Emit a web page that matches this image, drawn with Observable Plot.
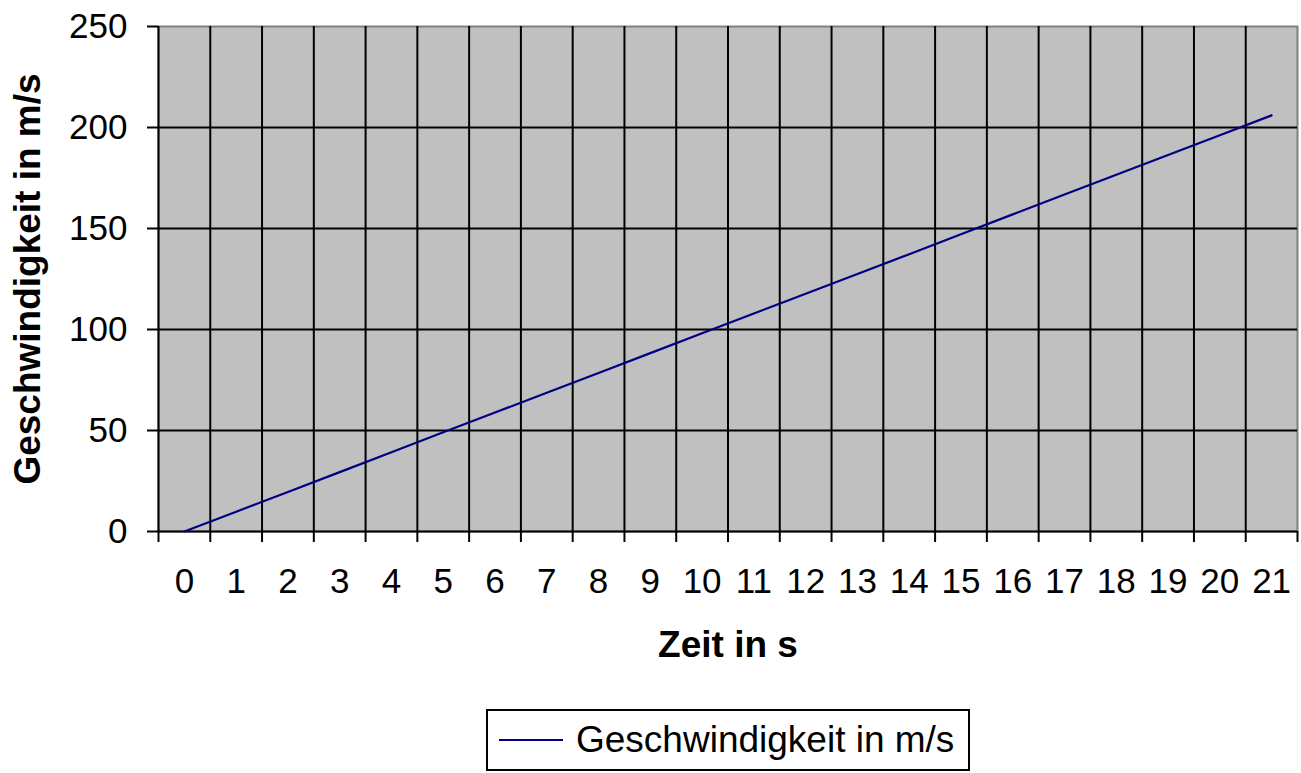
<!DOCTYPE html>
<html>
<head>
<meta charset="utf-8">
<script src="https://cdn.jsdelivr.net/npm/d3@7"></script>
<script src="https://cdn.jsdelivr.net/npm/@observablehq/plot@0.6"></script>
<style>
  html, body { margin: 0; padding: 0; background: white; }
  body { position: relative; width: 1301px; height: 773px; overflow: hidden; font-family: "Liberation Sans", Arial, sans-serif; }
  #legend { position: absolute; left: 486px; top: 709px; width: 480px; height: 58px; border: 2px solid #000; background: white; display: flex; align-items: center; }
  #legend svg { margin-left: 10px; }
  #legend span { font-size: 37px; margin-left: 12px; color: #000; }
</style>
</head>
<body>
<div id="chart"></div>
<div id="legend"><svg width="66" height="6"><line x1="1" x2="65" y1="3" y2="3" stroke="#000080" stroke-width="2"/></svg><span>Geschwindigkeit in m/s</span></div>
<script>
const categories = [0,1,2,3,4,5,6,7,8,9,10,11,12,13,14,15,16,17,18,19,20,21];
const speeds = [0, 9.8, 19.6, 29.4, 39.2, 49.1, 58.9, 68.7, 78.5, 88.3, 98.1, 107.9, 117.7, 127.5, 137.3, 147.2, 157.0, 166.8, 176.6, 186.4, 196.2, 206.0];
const yTicks = [0, 50, 100, 150, 200, 250];
const seriesName = "Geschwindigkeit in m/s";
const xTitle = "Zeit in s";
const yTitle = "Geschwindigkeit in m/s";

const data = categories.map((c, i) => ({t: c, v: speeds[i]}));
const boundaries = categories.map(c => c - 0.5).concat([categories[categories.length - 1] + 0.5]);
const innerBoundaries = boundaries.slice(0, -1);

const chart = Plot.plot({
  width: 1301,
  height: 690,
  marginLeft: 158,
  marginRight: 4,
  marginTop: 26,
  marginBottom: 159,
  style: {fontFamily: "Liberation Sans, Arial, sans-serif", fontSize: "35px", color: "black", background: "white"},
  x: {type: "linear", domain: [boundaries[0], boundaries[boundaries.length - 1]]},
  y: {domain: [yTicks[0], yTicks[yTicks.length - 1]]},
  marks: [
    Plot.frame({fill: "#c0c0c0", stroke: "#808080", strokeWidth: 2}),
    Plot.gridY(yTicks.slice(0, -1), {stroke: "black", strokeOpacity: 1, strokeWidth: 2}),
    Plot.ruleX(innerBoundaries, {stroke: "black", strokeWidth: 2}),
    Plot.axisX({ticks: boundaries, tickFormat: () => "", tickSize: 11, strokeWidth: 2, label: null}),
    Plot.axisX({ticks: categories, tickFormat: d => String(d), tickSize: 0, tickPadding: 37, fontSize: 35, label: null}),
    Plot.axisY({ticks: yTicks, tickSize: 11, tickPadding: 20, strokeWidth: 2, fontSize: 35, label: null}),
    Plot.line(data, {x: "t", y: "v", stroke: "#000080", strokeWidth: 2.2}),
    Plot.text([xTitle], {frameAnchor: "bottom", dy: 114, lineAnchor: "middle", fontWeight: "bold", fontSize: 37, fill: "black"}),
    Plot.text([yTitle], {frameAnchor: "left", dx: -130, rotate: -90, textAnchor: "middle", lineAnchor: "middle", fontWeight: "bold", fontSize: 37, fill: "black"})
  ]
});
document.getElementById("chart").appendChild(chart);
document.querySelector("#legend span").textContent = seriesName;
</script>
</body>
</html>
